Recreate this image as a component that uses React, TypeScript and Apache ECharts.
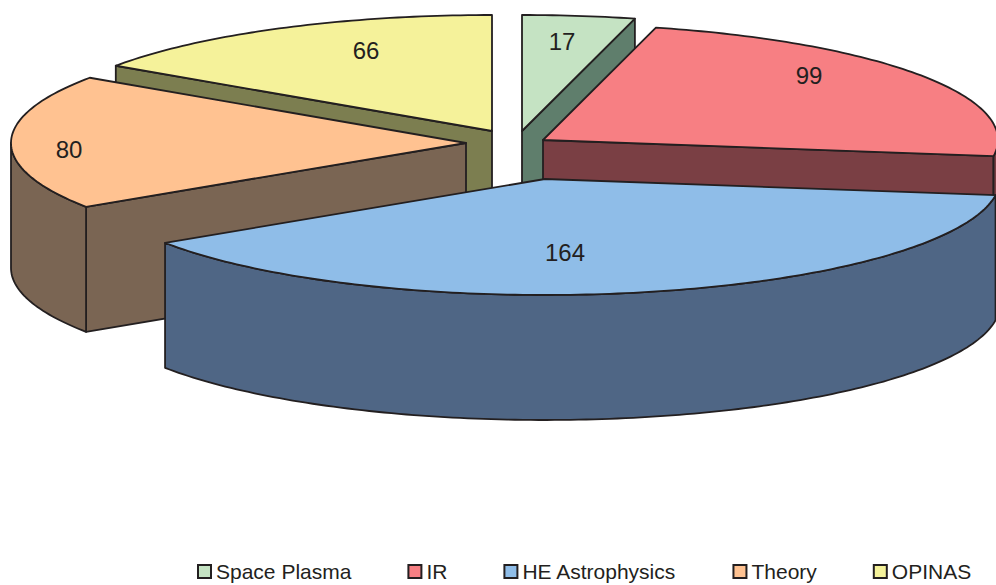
import React, { useEffect, useRef } from "react";
import * as echarts from "echarts";

const categories = ["Space Plasma", "IR", "HE Astrophysics", "Theory", "OPINAS"];
const values = [17, 99, 164, 80, 66];
const topColors = ["#C5E3C3", "#F77F83", "#8FBDE8", "#FFC291", "#F5F29A"];
const wallColors = ["#5F7E6C", "#7A3F44", "#4F6685", "#7A6553", "#7C7E50"];
// exploded apex of every slice on the chart, in pixels
const apexX = [522, 543, 545, 466, 492];
const apexY = [131, 140, 179, 143, 131];
// label offset from the apex
const labelDx = [40, 266, 20, -397, -126];
const labelDy = [-90, -65, 73, 6, -81];
// painter's order: back slices first
const drawOrder = [0, 1, 4, 3, 2];

const RX = 455;
const RY = 116;
const DEPTH = 125;
const INK = "#231F20";
const FONT = '"Liberation Sans", Arial, sans-serif';
const total = values.reduce((a, b) => a + b, 0);

function sliceRange(i: number, v: number) {
  let before = 0;
  for (let k = 0; k < i; k++) before += values[k];
  const start = (before / total) * 360;
  return [start, start + (v / total) * 360];
}

function rimPoint(i: number, deg: number, drop = 0) {
  const a = (deg * Math.PI) / 180;
  return [apexX[i] + RX * Math.sin(a), apexY[i] - RY * Math.cos(a) + drop];
}

function arcPoints(i: number, from: number, to: number, drop = 0) {
  const n = Math.max(2, Math.ceil(Math.abs(to - from)));
  const pts: number[][] = [];
  for (let k = 0; k <= n; k++) pts.push(rimPoint(i, from + ((to - from) * k) / n, drop));
  return pts;
}

function makeRenderItem(i: number) {
  return (_params: any, api: any) => {
    const v = api.value(0);
    const [start, end] = sliceRange(i, v);
    const apex = [apexX[i], apexY[i]];
    const apexLow = [apexX[i], apexY[i] + DEPTH];
    const line = { stroke: INK, lineWidth: 1.8, lineJoin: "round" };
    const wall = { ...line, fill: wallColors[i] };
    const children: any[] = [];
    const face = (deg: number) => ({
      type: "polygon",
      shape: { points: [apex, rimPoint(i, deg), rimPoint(i, deg, DEPTH), apexLow] },
      style: wall,
    });
    // only the cut faces that turn towards the viewer are drawn
    if (Math.sin((start * Math.PI) / 180) < -1e-6) children.push(face(start));
    if (Math.sin((end * Math.PI) / 180) > 1e-6) children.push(face(end));
    const from = Math.max(start, 90);
    const to = Math.min(end, 270);
    if (to > from) {
      children.push({
        type: "polygon",
        shape: { points: [...arcPoints(i, from, to), ...arcPoints(i, to, from, DEPTH)] },
        style: wall,
      });
    }
    children.push({
      type: "polygon",
      shape: { points: [apex, ...arcPoints(i, start, end)] },
      style: { ...line, fill: topColors[i] },
    });
    children.push({
      type: "text",
      style: {
        text: String(v),
        x: apexX[i] + labelDx[i],
        y: apexY[i] + labelDy[i],
        fill: INK,
        font: `24px ${FONT}`,
        align: "center",
        verticalAlign: "middle",
      },
    });
    return { type: "group", children };
  };
}

export default function App() {
  const ref = useRef<HTMLDivElement>(null);
  useEffect(() => {
    document.body.style.margin = "0";
    const chart = echarts.init(ref.current!, undefined, { renderer: "svg" });
    chart.setOption({
      animation: false,
      backgroundColor: "#FFFFFF",
      legend: {
        data: categories,
        left: 197,
        top: 561,
        padding: 0,
        icon: "rect",
        itemWidth: 13,
        itemHeight: 13,
        itemGap: 56,
        itemStyle: { borderColor: INK, borderWidth: 2 },
        textStyle: { color: INK, fontSize: 21, fontFamily: FONT },
      },
      series: drawOrder.map((i) => ({
        type: "custom",
        name: categories[i],
        coordinateSystem: "none",
        itemStyle: { color: topColors[i] },
        renderItem: makeRenderItem(i),
        data: [[values[i]]],
        silent: true,
      })),
    });
    return () => chart.dispose();
  }, []);
  return <div ref={ref} style={{ width: 996, height: 585 }} />;
}
